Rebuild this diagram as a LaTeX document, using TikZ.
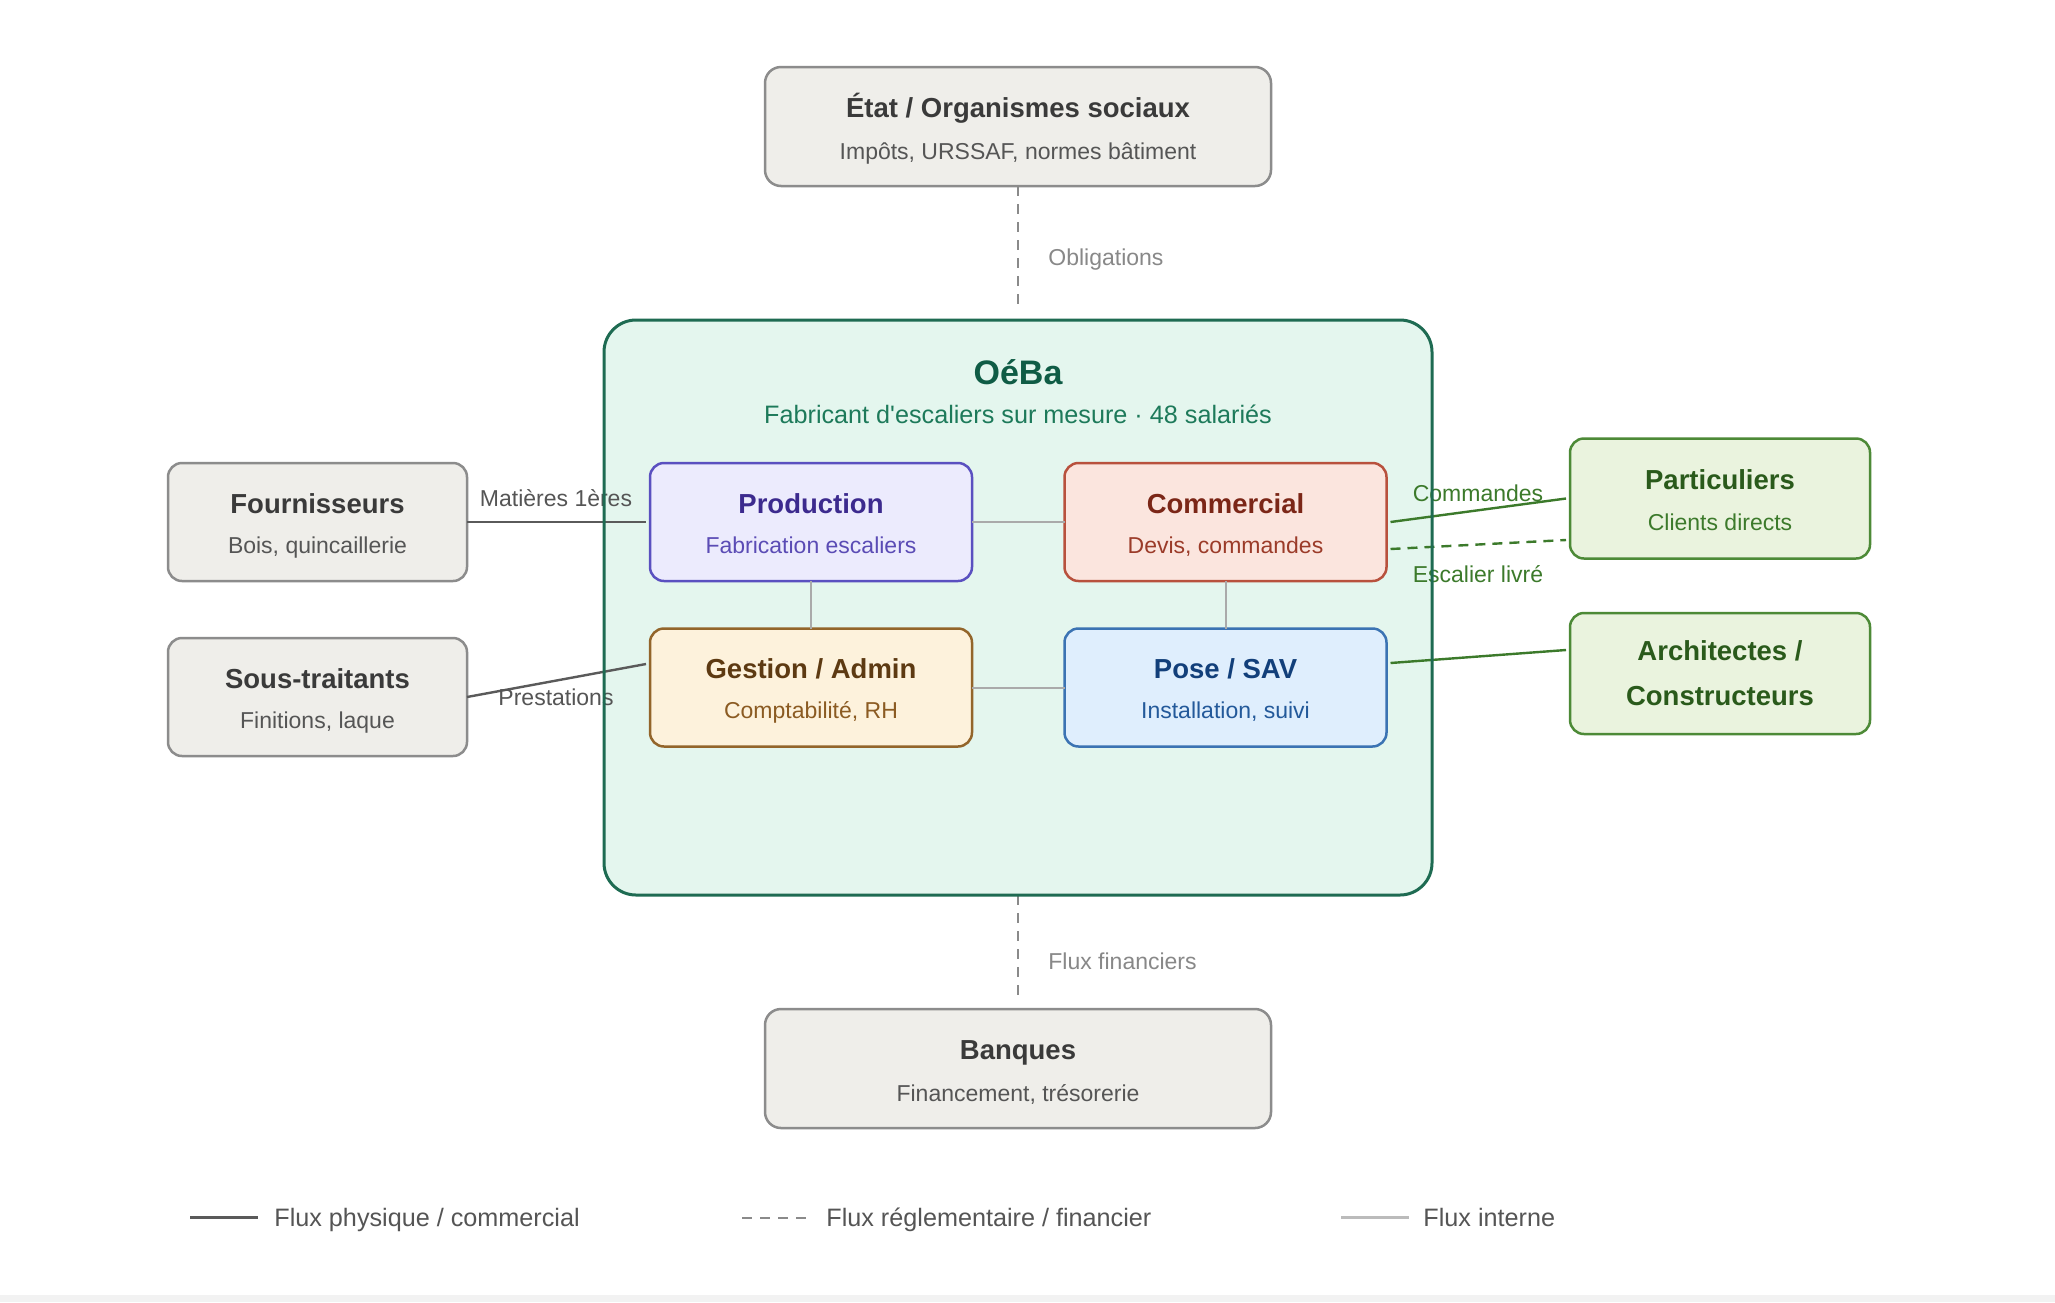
\documentclass[tikz,border=0pt]{standalone}
\usepackage{fontspec}
\setmainfont{Liberation Sans}
\usetikzlibrary{calc}
\newcommand{\straightquote}{\XeTeXglyph\XeTeXcharglyph"27\relax}
\definecolor{gfill}{HTML}{EFEEEA}
\definecolor{gborder}{HTML}{8C8C8C}
\definecolor{gtitle}{HTML}{3A3A3A}
\definecolor{gsub}{HTML}{555555}
\definecolor{ofill}{HTML}{E4F6EE}
\definecolor{oborder}{HTML}{1E6B52}
\definecolor{otitle}{HTML}{0F5C45}
\definecolor{osub}{HTML}{1D7A5A}
\definecolor{pfill}{HTML}{ECEBFD}
\definecolor{pborder}{HTML}{5A50C0}
\definecolor{ptitle}{HTML}{3C2A8E}
\definecolor{psub}{HTML}{5B4CB5}
\definecolor{cfill}{HTML}{FBE5DE}
\definecolor{cborder}{HTML}{B8513D}
\definecolor{ctitle}{HTML}{7B2617}
\definecolor{csub}{HTML}{9B3B29}
\definecolor{afill}{HTML}{FDF2DC}
\definecolor{aborder}{HTML}{93652A}
\definecolor{atitle}{HTML}{5D3A12}
\definecolor{asub}{HTML}{8B5B22}
\definecolor{sfill}{HTML}{DFEEFD}
\definecolor{sborder}{HTML}{3B73B3}
\definecolor{stitle}{HTML}{123F7A}
\definecolor{ssub}{HTML}{23599A}
\definecolor{vfill}{HTML}{EAF3DE}
\definecolor{vborder}{HTML}{4D8A37}
\definecolor{vtitle}{HTML}{2A5A1B}
\definecolor{vsub}{HTML}{3C7A2B}
\definecolor{extline}{HTML}{5A5A5A}
\definecolor{intline}{HTML}{AAAAAA}
\definecolor{dashline}{HTML}{8A8A8A}
\definecolor{lbl}{HTML}{555555}
\definecolor{lbllight}{HTML}{888888}
\begin{document}
\begin{tikzpicture}[x=0.5pt,y=-0.5pt,
  box/.style={rounded corners=7pt, line width=1.25pt, inner sep=0pt, outer sep=0pt},
  gbox/.style={box, draw=gborder, fill=gfill, minimum width=149.5pt, minimum height=59pt},
  wbox/.style={box, rounded corners=8pt, draw=gborder, fill=gfill, minimum width=253pt, minimum height=59.5pt},
  dbox/.style={box, minimum width=161pt, minimum height=59pt},
  vbox/.style={box, draw=vborder, fill=vfill, minimum width=150pt, minimum height=60pt},
  ttl/.style={inner sep=0pt, anchor=base, font=\fontsize{13.75pt}{16pt}\selectfont\bfseries},
  subt/.style={inner sep=0pt, anchor=base, font=\fontsize{11.5pt}{14pt}\selectfont},
  clbl/.style={inner sep=0pt, anchor=base, font=\fontsize{11.5pt}{14pt}\selectfont},
  extl/.style={draw=extline, line width=1.2pt},
  grnl/.style={draw=vsub, line width=1.2pt},
  intl/.style={draw=intline, line width=1pt},
  dashl/.style={draw=dashline, line width=1pt, dash pattern=on 5pt off 4pt},
  legtxt/.style={inner sep=0pt, anchor=base west, text=lbl, font=\fontsize{12.6pt}{15pt}\selectfont}
]
\useasboundingbox (0,0) rectangle (2055,1302);
\fill[white] (0,0) rectangle (2055,1302);
\fill[black!5] (0,1295) rectangle (2055,1302);

% main container
\node[box, rounded corners=16pt, fill=ofill, minimum width=414pt, minimum height=287.5pt] (oeba) at (1018,607.5) {};
\node[inner sep=0pt, anchor=base, text=otitle, font=\fontsize{17pt}{20pt}\selectfont\bfseries] (oebat) at (1018,384) {OéBa};
\node[inner sep=0pt, anchor=base, text=osub, font=\fontsize{12.6pt}{15pt}\selectfont] (oebas) at (1018,423) {Fabricant d\straightquote escaliers sur mesure · 48 salariés};

% departments
\node[dbox, draw=pborder, fill=pfill] (prod) at (811,522) {};
\node[dbox, draw=cborder, fill=cfill] (com) at (1225.5,522) {};
\node[dbox, draw=aborder, fill=afill] (ges) at (811,687.5) {};
\node[dbox, draw=sborder, fill=sfill] (pose) at (1225.5,687.5) {};

% internal links
\draw[intl] (prod.east) -- (com.west);
\draw[intl] (prod.south) -- (ges.north);
\draw[intl] (com.south) -- (pose.north);
\draw[intl] (ges.east) -- (pose.west);

\node[ttl, text=ptitle] (prodt) at ($(prod.center)+(0,-9)$) {Production};
\node[subt, text=psub] (prods) at ($(prod.center)+(0,31)$) {Fabrication escaliers};
\node[ttl, text=ctitle] (comt) at ($(com.center)+(0,-9)$) {Commercial};
\node[subt, text=csub] (coms) at ($(com.center)+(0,31)$) {Devis, commandes};
\node[ttl, text=atitle] (gest) at ($(ges.center)+(0,-9)$) {Gestion / Admin};
\node[subt, text=asub] (gess) at ($(ges.center)+(0,31)$) {Comptabilité, RH};
\node[ttl, text=stitle] (poset) at ($(pose.center)+(0,-9)$) {Pose / SAV};
\node[subt, text=ssub] (poses) at ($(pose.center)+(0,31)$) {Installation, suivi};

% external partners
\node[wbox] (etat) at (1018,126.5) {};
\node[ttl, text=gtitle] (etatt) at ($(etat.center)+(0,-9)$) {État / Organismes sociaux};
\node[subt, text=gsub] (etats) at ($(etat.center)+(0,32.5)$) {Impôts, URSSAF, normes bâtiment};

\node[wbox] (ban) at (1018,1068.5) {};
\node[ttl, text=gtitle] (bant) at ($(ban.center)+(0,-9)$) {Banques};
\node[subt, text=gsub] (bans) at ($(ban.center)+(0,32.5)$) {Financement, trésorerie};

\node[gbox] (fou) at (317.5,522) {};
\node[ttl, text=gtitle] (fout) at ($(fou.center)+(0,-9)$) {Fournisseurs};
\node[subt, text=gsub] (fous) at ($(fou.center)+(0,31)$) {Bois, quincaillerie};

\node[gbox] (sous) at (317.5,697) {};
\node[ttl, text=gtitle] (sout) at ($(sous.center)+(0,-9)$) {Sous-traitants};
\node[subt, text=gsub] (sous2) at ($(sous.center)+(0,31)$) {Finitions, laque};

\node[vbox] (par) at (1720,498.5) {};
\node[ttl, text=vtitle] (part) at ($(par.center)+(0,-9)$) {Particuliers};
\node[subt, text=vsub] (pars) at ($(par.center)+(0,32)$) {Clients directs};

\node[vbox, minimum height=60.5pt] (arch) at (1720,673.5) {};
\node[ttl, text=vtitle] (archt1) at ($(arch.center)+(0,-13.5)$) {Architectes /};
\node[ttl, text=vtitle] (archt2) at ($(arch.center)+(0,31.5)$) {Constructeurs};

% vertical dashed links
\draw[dashl] (etat.south) -- ($(oeba.north)+(0,-12)$);
\node[inner sep=0pt, anchor=base west, text=lbllight, font=\fontsize{11.5pt}{14pt}\selectfont] (oblig) at (1048,265) {Obligations};
\draw[dashl] (oeba.south) -- ($(ban.north)+(0,-10)$);
\node[inner sep=0pt, anchor=base west, text=lbllight, font=\fontsize{11.5pt}{14pt}\selectfont] (fluxf) at (1048,969) {Flux financiers};

% left links
\draw[extl] (fou.east) -- ($(prod.west)+(-4,0)$);
\node[clbl, text=lbl] (mat) at (556,506) {Matières 1ères};
\draw[extl] (sous.east) -- ($(ges.west)+(-4,-23.5)$);
\node[clbl, text=lbl] (prest) at (556,705) {Prestations};

% right links
\draw[grnl] ($(com.east)+(4,0)$) -- ($(par.west)+(-4,0)$);
\draw[grnl, dash pattern=on 5pt off 3.5pt] ($(com.east)+(4,27)$) -- ($(par.west)+(-4,41.5)$);
\node[clbl, text=vsub] (cmdl) at (1478,501) {Commandes};
\node[clbl, text=vsub] (escl) at (1478,582) {Escalier livré};
\draw[grnl] ($(pose.east)+(4,-24.5)$) -- ($(arch.west)+(-4,-23.5)$);

% container border on top
\draw[oborder, line width=1.5pt, rounded corners=16pt] (oeba.north west) rectangle (oeba.south east);

% legend
\coordinate (l1a) at (190,1217.5);
\coordinate (l1b) at (258,1217.5);
\draw[draw=extline, line width=1.5pt] (l1a) -- (l1b);
\node[legtxt] (leg1) at (274,1226) {Flux physique / commercial};
\coordinate (l2a) at (742,1217.5);
\coordinate (l2b) at (810,1217.5);
\draw[draw=dashline, line width=1pt, dash pattern=on 5pt off 4pt] (l2a) -- (l2b);
\node[legtxt] (leg2) at (826,1226) {Flux réglementaire / financier};
\coordinate (l3a) at (1341,1217.5);
\coordinate (l3b) at (1409,1217.5);
\draw[draw=intline!80, line width=1.2pt] (l3a) -- (l3b);
\node[legtxt] (leg3) at (1423,1226) {Flux interne};
\end{tikzpicture}
\end{document}
